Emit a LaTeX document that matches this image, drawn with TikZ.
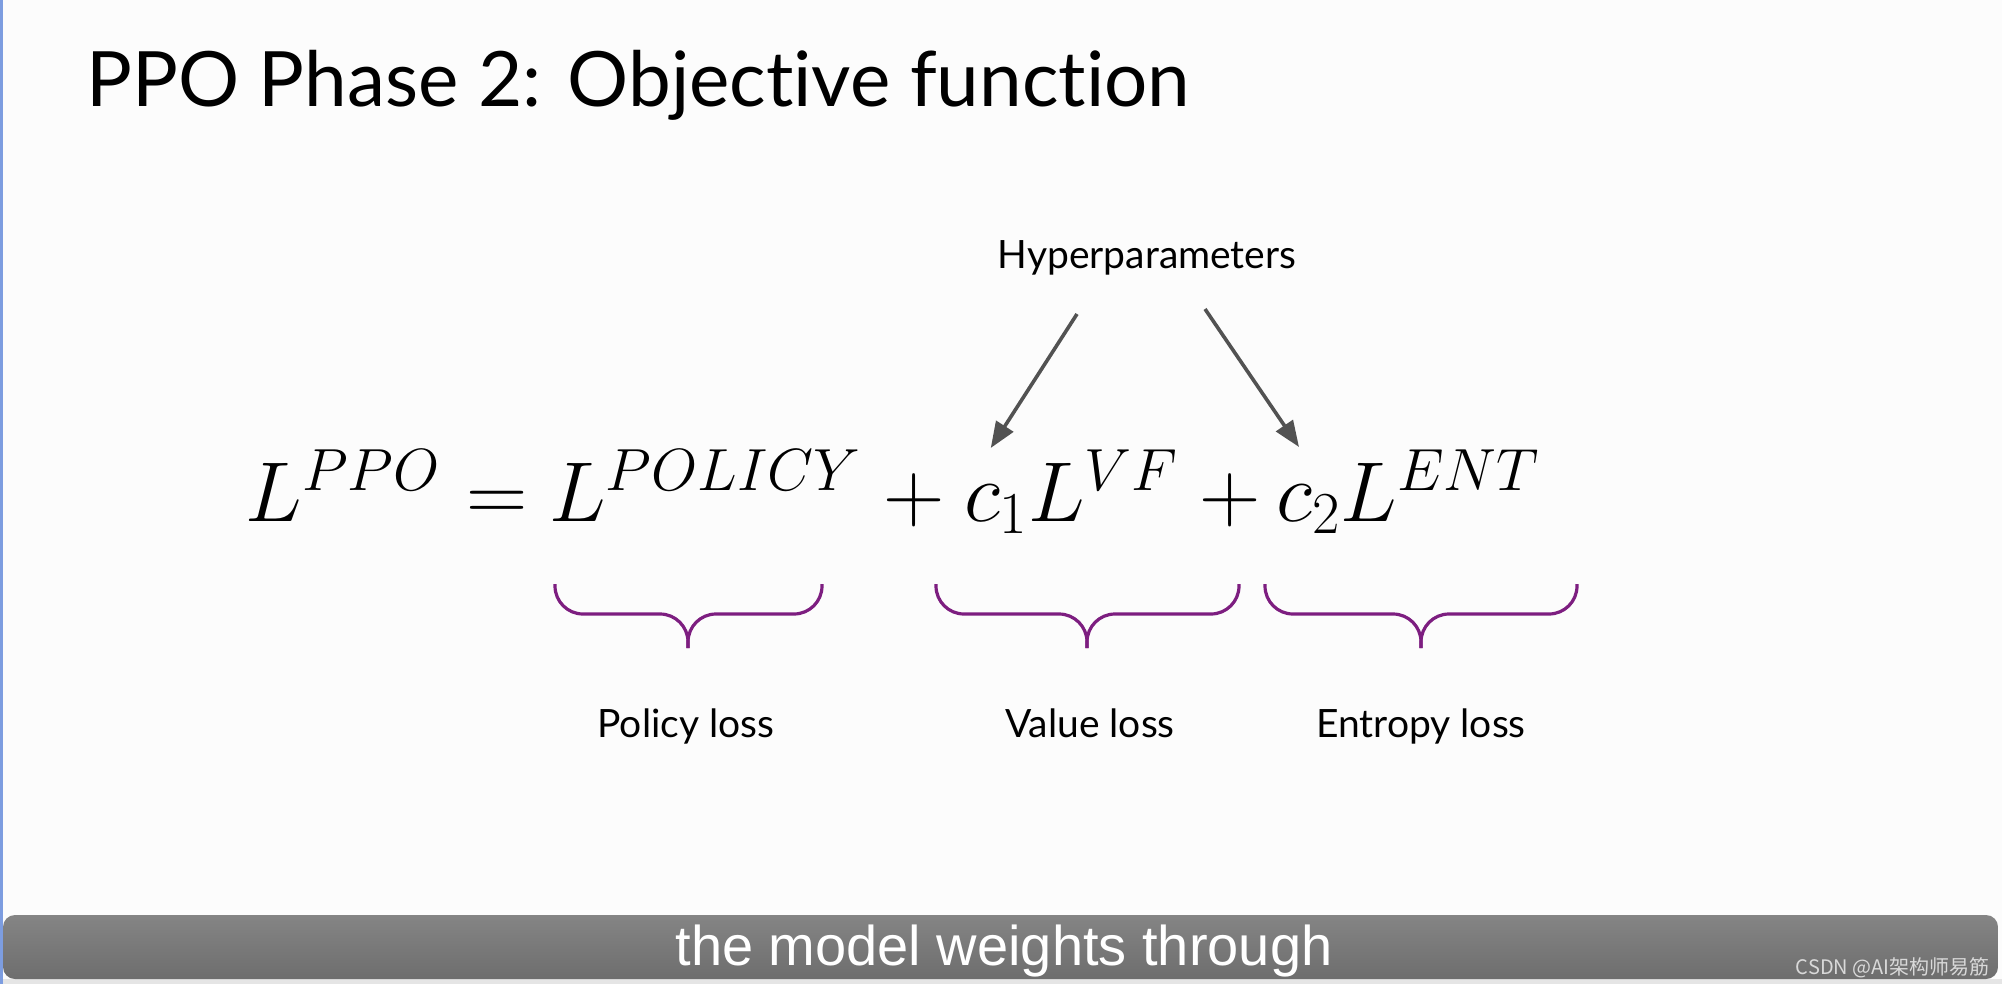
\RequirePackage{fix-cm}
\documentclass[tikz,border=0pt]{standalone}
\usepackage{amsmath}
\usepackage{fontspec}
\newfontfamily\latofont[Ligatures=CommonOff]{Lato}
\newfontfamily\capfont{Liberation Sans}
\newfontfamily\cjkfont{Noto Sans CJK SC}
\usetikzlibrary{arrows.meta,calc,positioning}

\definecolor{bracepurple}{RGB}{125,30,128}
\definecolor{arrowgray}{RGB}{82,82,82}
\definecolor{sideblue}{RGB}{125,157,224}

\newcommand{\lossbrace}[3]{%
  \draw[brace line] (#1,584) |- (#2,614) -- (#2,648);
  \draw[brace line] (#3,584) |- (#2,614) -- (#2,648);}

\begin{document}
\begin{tikzpicture}[x=0.5pt,y=-0.5pt,
  eqpart/.style={inner sep=0pt,font=\fontsize{42.5}{50}\selectfont},
  lossname/.style={inner sep=0pt,font=\latofont\fontsize{19.5}{23}\selectfont},
  hyp arrow/.style={arrowgray,line width=1.8pt,-{Triangle[length=13pt,width=10pt]}},
  brace line/.style={bracepurple,line width=1.6pt,rounded corners=14pt}]

  % page
  \fill[white!99!black] (0,0) rectangle (2002,984);
  \useasboundingbox (0,0) rectangle (2002,984);
  \fill[sideblue] (0,0) rectangle (3,984);
  \fill[black!10] (3,979) rectangle (2002,984);

  \node[inner sep=0pt,anchor=base west,font=\latofont\fontsize{38.2}{46}\selectfont]
    (title) at (86,107) {PPO Phase 2: Objective function};

  % the objective
  \node[eqpart,anchor=base west] (lppo) at (245,521) {$L^{PPO}$};
  \node[eqpart,base right=12.5pt of lppo] (eqsign) {$=$};
  \node[eqpart,base right=10.5pt of eqsign] (lpol) {$L^{POLICY}$};
  \node[eqpart,base right=10.5pt of lpol] (plus1) {$+$};
  \node[eqpart,base right=9.5pt of plus1] (lvf) {$c_1L^{VF}$};
  \node[eqpart,base right=10pt of lvf] (plus2) {$+$};
  \node[eqpart,base right=7.5pt of plus2] (lent) {$c_2L^{ENT}$};

  \node[lossname,anchor=base] (hyp) at (1147,269) {Hyperparameters};
  \draw[hyp arrow] ($(hyp.base)+(-70,45)$) -- ($(lvf.base west)+(27,-73)$);
  \draw[hyp arrow] ($(hyp.base)+(58,40)$) -- ($(lent.base west)+(23,-74)$);

  % braces
  \lossbrace{555}{688}{822}
  \lossbrace{936}{1087}{1239}
  \lossbrace{1265}{1421}{1577}
  \coordinate (poltip) at (686,648);
  \coordinate (valtip) at (1090,648);
  \coordinate (enttip) at (1421,648);
  \node[lossname,below=30pt of poltip] (pollbl) {Policy loss};
  \node[lossname,below=30pt of valtip] (vallbl) {Value loss};
  \node[lossname,below=30pt of enttip] (entlbl) {Entropy loss};

  % subtitle bar
  \shade[top color=black!48,bottom color=black!57,rounded corners=6pt]
    (3,915) rectangle (1998,979);
  \node[anchor=base,text=white,font=\capfont\fontsize{28}{32}\selectfont]
    (captext) at (1004,965) {the model weights through};
  \node[anchor=base east,inner sep=0pt,text=black!15,font=\cjkfont\fontsize{10}{12}\selectfont]
    (mark) at (1990,974) {CSDN @AI架构师易筋};
\end{tikzpicture}
\end{document}
